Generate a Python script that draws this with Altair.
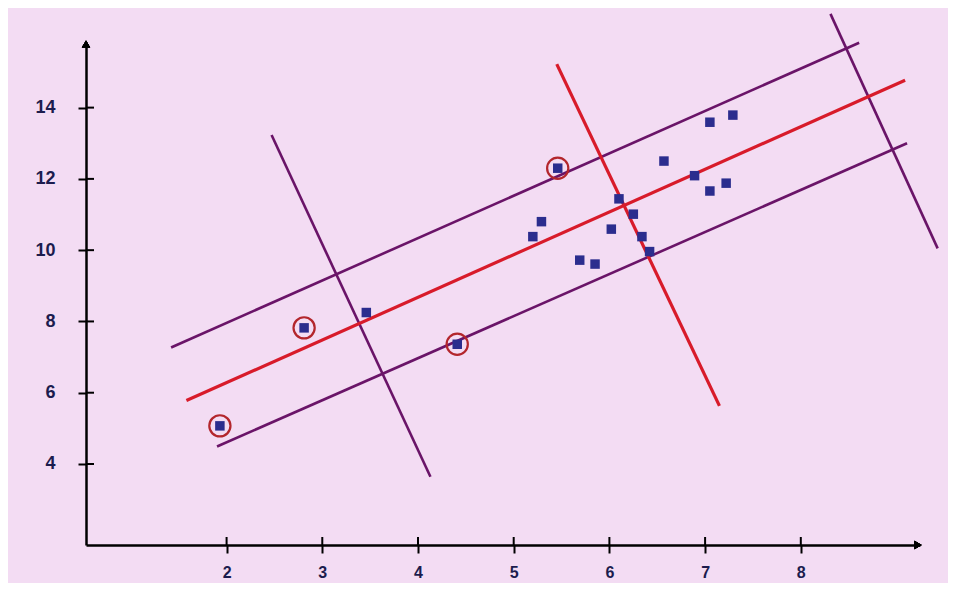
import altair as alt
import pandas as pd

# ---- data ----
pt_x = [1.93, 2.81, 3.46, 4.41, 5.46, 5.20, 5.29, 5.69, 5.85, 6.02,
        6.10, 6.25, 6.34, 6.42, 6.57, 6.89, 7.05, 7.29, 7.22, 7.05]
pt_y = [5.07, 7.82, 8.25, 7.36, 12.30, 10.38, 10.80, 9.72, 9.61, 10.59,
        11.44, 11.01, 10.38, 9.96, 12.50, 12.09, 13.59, 13.79, 11.88, 11.66]
circled = [True, True, False, True, True, False, False, False, False, False,
           False, False, False, False, False, False, False, False, False, False]

line_names = ["upper", "center", "lower", "perp_left", "perp_mid", "perp_right"]
line_x1 = [1.42, 1.58, 1.90, 2.47, 5.45, 8.31]
line_y1 = [7.27, 5.78, 4.49, 13.23, 15.22, 16.63]
line_x2 = [8.61, 9.09, 9.11, 4.13, 7.15, 9.43]
line_y2 = [15.82, 14.77, 13.00, 3.64, 5.63, 10.05]
line_kind = ["purple", "red", "purple", "purple", "red", "purple"]

x_ticks = [2, 3, 4, 5, 6, 7, 8]
y_ticks = [4, 6, 8, 10, 12, 14]

x_domain = [0.531, 9.2455]
y_domain = [1.727, 15.841]

W, H = 834, 503
BG = "#f3dcf3"
LABEL = "#1c1c4e"

pts = pd.DataFrame({"x": pt_x, "y": pt_y, "circled": circled})
lines = pd.DataFrame({"name": line_names, "x": line_x1, "y": line_y1,
                      "x2": line_x2, "y2": line_y2, "kind": line_kind})
xt = pd.DataFrame({"v": x_ticks})
yt = pd.DataFrame({"v": y_ticks})

xs = alt.Scale(domain=x_domain, nice=False, zero=False)
ys = alt.Scale(domain=y_domain, nice=False, zero=False)

x_axis = alt.Axis(values=x_ticks, format="d", grid=False, domainColor="black", domainWidth=2.5,
                  tickColor="black", tickWidth=2, tickSize=8, labelPadding=11,
                  labelFont="Liberation Sans", labelFontWeight="bold", labelFontSize=16,
                  labelColor=LABEL, title=None)
y_axis = alt.Axis(values=y_ticks, format="d", grid=False, domainColor="black", domainWidth=2.5,
                  tickColor="black", tickWidth=2, tickSize=8, labelPadding=23,
                  labelFont="Liberation Sans", labelFontWeight="bold", labelFontSize=18,
                  labelColor=LABEL, title=None)


def X(f):
    return alt.X(f, type="quantitative", scale=xs, axis=x_axis)


def Y(f):
    return alt.Y(f, type="quantitative", scale=ys, axis=y_axis)


base_axes = alt.Chart(xt).mark_point(opacity=0).encode(x=X("v"), y=Y("v"))

x_inner = alt.Chart(xt).mark_rule(color="black", strokeWidth=2).encode(
    x=X("v"), y=alt.value(H - 8), y2=alt.value(H))
y_inner = alt.Chart(yt).mark_rule(color="black", strokeWidth=2).encode(
    y=Y("v"), x=alt.value(0), x2=alt.value(8))

purple_lines = alt.Chart(lines).transform_filter(alt.datum.kind == "purple").mark_rule(
    color="#6a1468", strokeWidth=2.6).encode(
    x=X("x"), y=Y("y"), x2="x2:Q", y2="y2:Q")
red_lines = alt.Chart(lines).transform_filter(alt.datum.kind == "red").mark_rule(
    color="#d81b2a", strokeWidth=3.2).encode(
    x=X("x"), y=Y("y"), x2="x2:Q", y2="y2:Q")

points = alt.Chart(pts).mark_point(shape="square", filled=True, size=90,
                                   color="#2b2d8e", opacity=1).encode(x=X("x"), y=Y("y"))
rings = alt.Chart(pts).transform_filter(alt.datum.circled).mark_point(
    shape="circle", filled=False, size=450, color="#b3262c", strokeWidth=2.2,
    opacity=1).encode(x=X("x"), y=Y("y"))

arrow_x = alt.Chart(xt).mark_point(shape="triangle-right", filled=True, size=70,
                                   color="black", opacity=1).encode(
    x=alt.value(W - 2), y=alt.value(H))
arrow_y = alt.Chart(yt).mark_point(shape="triangle-up", filled=True, size=70,
                                   color="black", opacity=1).encode(
    x=alt.value(0), y=alt.value(2))

chart = alt.layer(base_axes, x_inner, y_inner, purple_lines, red_lines,
                  points, rings, arrow_x, arrow_y).properties(
    width=W, height=H,
    autosize=alt.AutoSizeParams(type="none"),
    padding={"left": 78, "top": 34, "right": 28, "bottom": 38},
    background=BG,
).configure_view(strokeWidth=0)

chart.save("out.html", embed_options={"renderer": "svg", "actions": False})
